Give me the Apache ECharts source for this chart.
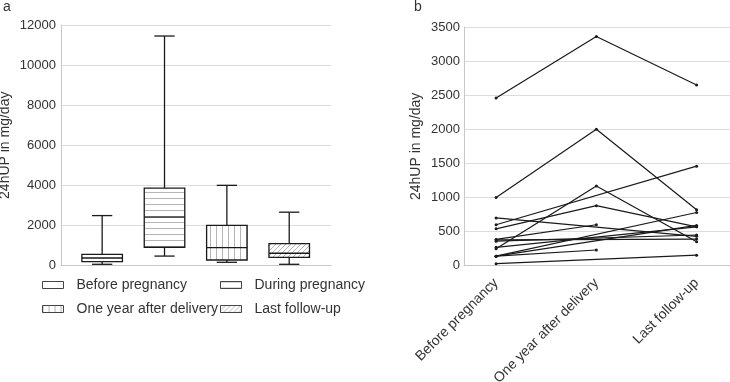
<!DOCTYPE html>
<html>
<head>
<meta charset="utf-8">
<script src="https://cdn.jsdelivr.net/npm/echarts@6/dist/echarts.min.js"></script>
<style>
html, body { margin: 0; padding: 0; background: #fff; }
#chart { width: 730px; height: 382px; }
</style>
</head>
<body>
<div id="chart"></div>
<script>
// panel a - box summaries per period
const boxNames = ['Before pregnancy', 'During pregnancy', 'One year after delivery', 'Last follow-up'];
const boxMin = [60, 470, 160, 60];
const boxQ1 = [190, 910, 275, 410];
const boxMedian = [375, 2410, 890, 610];
const boxQ3 = [560, 3860, 2000, 1090];
const boxMax = [2490, 11450, 4000, 2660];

// panel b - one line per patient (null = not measured)
const stageNames = ['Before pregnancy', 'One year after delivery', 'Last follow-up'];
const beforeVals = [2460, 1000, 600, 540, 250, 700, 385, 140, 30, 140, 140, 270, 360, 380];
const oneYearVals = [3360, 2000, null, 880, 1170, null, 600, 230, null, null, null, null, null, null];
const lastVals = [2650, 820, 1460, 570, 350, 430, null, null, 155, 780, 590, 570, 450, 390];

const FONT = '"Liberation Sans", Arial, sans-serif';
const TEXT = '#333';
const GRIDLINE = '#dcdcdc';
const AXISLINE = '#c8c8c8';
const INK = '#1a1a1a';

// small repeating fills for the boxes
function makePattern(kind) {
  const s = kind === 'd' ? 5 : 6;
  const c = document.createElement('canvas');
  c.width = s; c.height = s;
  const g = c.getContext('2d');
  g.fillStyle = '#fff';
  g.fillRect(0, 0, s, s);
  g.strokeStyle = '#b5b5b5';
  g.lineWidth = 1;
  g.beginPath();
  if (kind === 'h') { g.moveTo(0, 0.5); g.lineTo(s, 0.5); }
  if (kind === 'v') { g.moveTo(0.5, 0); g.lineTo(0.5, s); }
  if (kind === 'd') {
    g.moveTo(0, s); g.lineTo(s, 0);
    g.moveTo(-1, 1); g.lineTo(1, -1);
    g.moveTo(s - 1, s + 1); g.lineTo(s + 1, s - 1);
  }
  g.stroke();
  return { image: c, repeat: 'repeat' };
}
const fills = ['#fff', makePattern('h'), makePattern('v'), makePattern('d')];

function renderBox(params, api) {
  const x = api.value(0);
  const p = [1, 2, 3, 4, 5].map(i => api.coord([x, api.value(i)]));
  const cx = p[0][0];
  const w = api.size([1, 0])[0] * 0.65;
  const cap = w / 4;
  const line = { stroke: INK, lineWidth: 1.3 };
  return {
    type: 'group',
    children: [
      { type: 'line', shape: { x1: cx, y1: p[0][1], x2: cx, y2: p[1][1] }, style: line },
      { type: 'line', shape: { x1: cx, y1: p[3][1], x2: cx, y2: p[4][1] }, style: line },
      { type: 'line', shape: { x1: cx - cap, y1: p[0][1], x2: cx + cap, y2: p[0][1] }, style: line },
      { type: 'line', shape: { x1: cx - cap, y1: p[4][1], x2: cx + cap, y2: p[4][1] }, style: line },
      {
        type: 'rect',
        shape: { x: cx - w / 2, y: p[3][1], width: w, height: p[1][1] - p[3][1] },
        style: { fill: fills[params.seriesIndex], stroke: INK, lineWidth: 1.3 }
      },
      { type: 'line', shape: { x1: cx - w / 2, y1: p[2][1], x2: cx + w / 2, y2: p[2][1] }, style: line }
    ]
  };
}

const boxSeries = boxNames.map((name, i) => ({
  name: name,
  type: 'custom',
  xAxisIndex: 0,
  yAxisIndex: 0,
  itemStyle: { color: fills[i] },
  renderItem: renderBox,
  data: [[i, boxMin[i], boxQ1[i], boxMedian[i], boxQ3[i], boxMax[i]]],
  silent: true
}));

const lineSeries = beforeVals.map((v, i) => {
  const pts = [beforeVals[i], oneYearVals[i], lastVals[i]]
    .map((y, k) => [k, y])
    .filter(d => d[1] != null);
  return {
    type: 'line',
    xAxisIndex: 1,
    yAxisIndex: 1,
    symbol: 'circle',
    symbolSize: 3,
    lineStyle: { color: INK, width: 1.2 },
    itemStyle: { color: INK },
    silent: true,
    animation: false,
    data: pts
  };
});

const legendBase = {
  orient: 'vertical',
  top: 278,
  padding: 0,
  itemWidth: 21,
  itemHeight: 7,
  itemGap: 10,
  icon: 'rect',
  selectedMode: false,
  itemStyle: { borderColor: '#444', borderWidth: 1 },
  textStyle: { fontSize: 14, color: TEXT, fontFamily: FONT, padding: [0, 0, 0, 8] }
};

const yAxisBase = {
  type: 'value',
  min: 0,
  nameLocation: 'middle',
  nameTextStyle: { fontSize: 14, color: TEXT, fontFamily: FONT },
  axisLine: { show: true, onZero: false, lineStyle: { color: AXISLINE } },
  axisTick: { show: false },
  axisLabel: { fontSize: 13, color: TEXT, fontFamily: FONT, formatter: v => String(v) },
  splitLine: { lineStyle: { color: GRIDLINE } }
};

const chart = echarts.init(document.getElementById('chart'));
chart.setOption({
  animation: false,
  backgroundColor: '#fff',
  textStyle: { fontFamily: FONT },
  title: [
    { text: 'a', left: 3, top: 0, padding: 0, textStyle: { fontSize: 14, fontWeight: 'normal', color: TEXT, fontFamily: FONT } },
    { text: 'b', left: 414, top: 0, padding: 0, textStyle: { fontSize: 14, fontWeight: 'normal', color: TEXT, fontFamily: FONT } }
  ],
  legend: [
    Object.assign({}, legendBase, { left: 42, data: [boxNames[0], boxNames[2]] }),
    Object.assign({}, legendBase, { left: 220, data: [boxNames[1], boxNames[3]] })
  ],
  grid: [
    { left: 61, right: 399, top: 25, bottom: 116.5, outerBoundsMode: 'none' },
    { left: 464, right: 0, top: 27, bottom: 116.3, outerBoundsMode: 'none' }
  ],
  xAxis: [
    {
      gridIndex: 0, type: 'value', min: -0.66, max: 3.67,
      axisLine: { show: true, onZero: false, lineStyle: { color: AXISLINE } },
      axisTick: { show: false }, axisLabel: { show: false }, splitLine: { show: false }
    },
    {
      gridIndex: 1, type: 'value', min: -0.32, max: 2.333,
      axisLine: { show: true, onZero: false, lineStyle: { color: AXISLINE } },
      axisTick: { show: false },
      splitLine: { show: false },
      axisLabel: {
        customValues: [0, 1, 2],
        formatter: v => stageNames[Math.round(v)],
        rotate: 45,
        margin: 15,
        fontSize: 14,
        color: TEXT,
        fontFamily: FONT
      }
    }
  ],
  yAxis: [
    Object.assign({}, yAxisBase, {
      gridIndex: 0, max: 12000, interval: 2000,
      name: '24hUP in mg/day', nameGap: 49,
      axisLabel: Object.assign({}, yAxisBase.axisLabel, { margin: 5 })
    }),
    Object.assign({}, yAxisBase, {
      gridIndex: 1, max: 3500, interval: 500,
      name: '24hUP in mg/day', nameGap: 41,
      axisLabel: Object.assign({}, yAxisBase.axisLabel, { margin: 4 })
    })
  ],
  series: boxSeries.concat(lineSeries)
});
</script>
</body>
</html>
